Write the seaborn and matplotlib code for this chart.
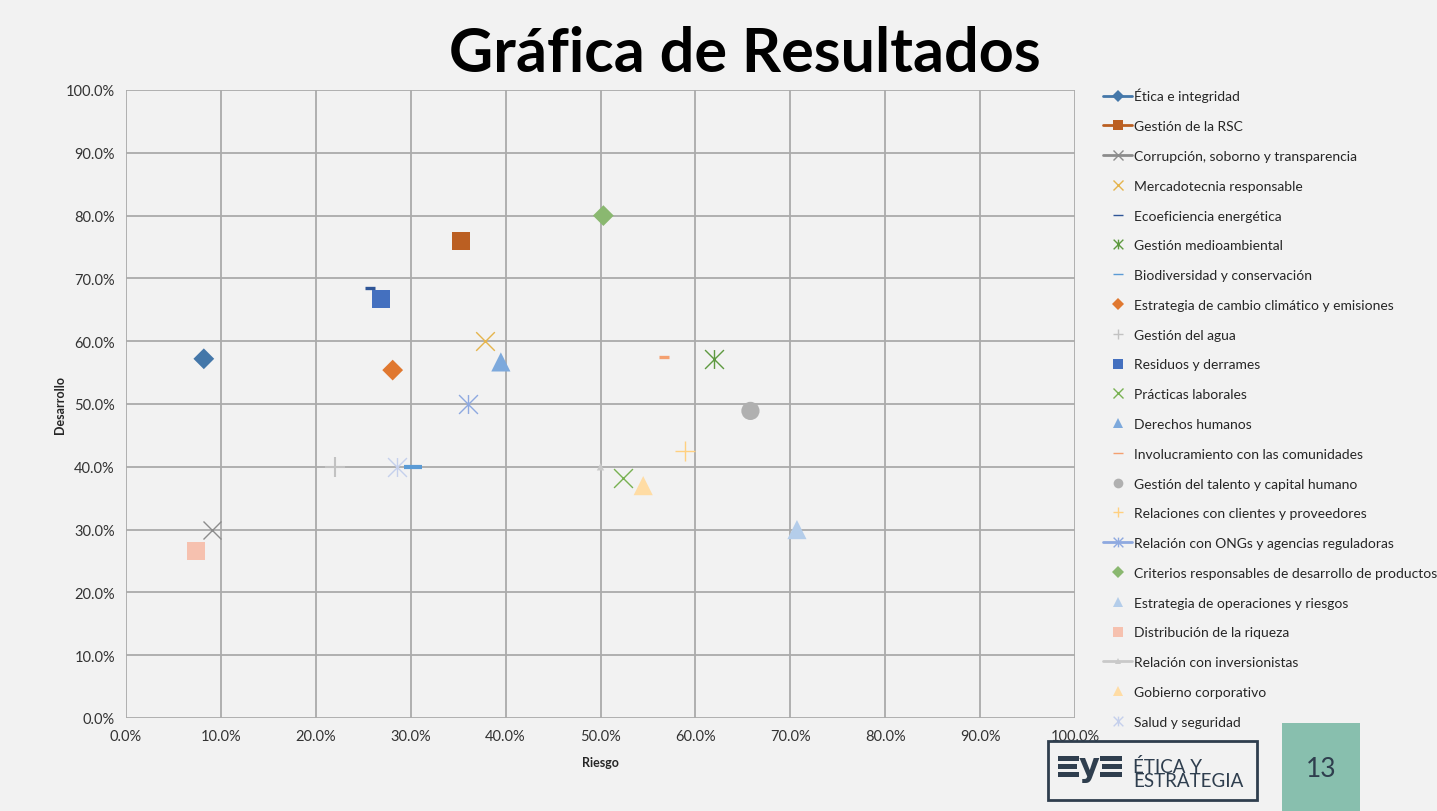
import matplotlib
matplotlib.use("Agg")
import matplotlib.pyplot as plt
import seaborn as sns
from matplotlib.lines import Line2D
from matplotlib.patches import Rectangle
from matplotlib.path import Path
from matplotlib.ticker import FuncFormatter

# Data (percent values)
temas = [
    "Ética e integridad", "Gestión de la RSC", "Corrupción, soborno y transparencia",
    "Mercadotecnia responsable", "Ecoeficiencia energética", "Gestión medioambiental",
    "Biodiversidad y conservación", "Estrategia de cambio climático y emisiones",
    "Gestión del agua", "Residuos y derrames", "Prácticas laborales", "Derechos humanos",
    "Involucramiento con las comunidades", "Gestión del talento y capital humano",
    "Relaciones con clientes y proveedores", "Relación con ONGs y agencias reguladoras",
    "Criterios responsables de desarrollo de productos", "Estrategia de operaciones y riesgos",
    "Distribución de la riqueza", "Relación con inversionistas", "Gobierno corporativo",
    "Salud y seguridad",
]
riesgo = [8.2, 35.3, 9.1, 37.8, 25.7, 62.0, 30.2, 28.1, 22.0, 26.9, 52.4, 39.5,
          56.7, 65.8, 58.9, 36.0, 50.3, 70.7, 7.4, 50.0, 54.5, 28.6]
desarrollo = [57.2, 76.0, 30.0, 60.0, 68.5, 57.2, 40.0, 55.4, 40.0, 66.7, 38.2, 56.7,
              57.5, 48.9, 42.5, 50.0, 80.0, 30.0, 26.6, 40.0, 37.0, 40.0]

# Excel-like star marker (x with a vertical bar)
star = Path([(0, -1), (0, 1), (-1, -1), (1, 1), (-1, 1), (1, -1)],
            [Path.MOVETO, Path.LINETO, Path.MOVETO, Path.LINETO, Path.MOVETO, Path.LINETO])

colores = ["#4477A9", "#BB5F22", "#8C8C8C", "#E5B44C", "#2F5597", "#5E9A40",
           "#5B9BD5", "#E07830", "#C2C2C2", "#4470BF", "#78B152", "#7DA9DC",
           "#F4A070", "#B0B0B0", "#FFD080", "#8EA9E0", "#8AB870", "#B4CDEA",
           "#F6C1AF", "#C9C9C9", "#FFDCA4", "#C5D0EC"]
marcadores = ["D", "s", "x", "x", "_", star, "_", "D", "+", "s", "x", "^",
              "_", "o", "+", star, "D", "^", "s", "^", "^", star]
tamanos = [112, 172, 168, 180, 42, 185, 169, 112, 207, 172, 185, 190,
           42, 172, 190, 185, 112, 190, 172, 28, 190, 185]
grosor = [0, 0, 1.0, 1.0, 2.4, 1.0, 3.0, 0, 1.5, 0, 1.0, 0,
          2.4, 0, 1.0, 1.0, 0, 0, 0, 0, 0, 1.0]
con_linea = [True, True, True, False, False, False, False, False, False, False, False,
             False, False, False, False, True, False, False, False, True, False, False]

sns.set_style("white")
plt.rcParams['font.family'] = ['Lato', 'DejaVu Sans']

bg = "#F2F2F2"
fig = plt.figure(figsize=(14.37, 8.12), dpi=100, facecolor=bg)
ax = fig.add_axes([126 / 1437, 93 / 812, 949 / 1437, 628 / 812], facecolor=bg)

for i in range(len(temas)):
    m = marcadores[i]
    lineal = m in ("x", "+", "_") or m is star
    sns.scatterplot(x=[riesgo[i]], y=[desarrollo[i]], marker=m, s=tamanos[i],
                    color=colores[i], edgecolor=colores[i] if lineal else "none",
                    linewidth=grosor[i], ax=ax, zorder=3, legend=False)

ax.set_xlim(0, 100)
ax.set_ylim(0, 100)
ax.set_xticks(range(0, 101, 10))
ax.set_yticks(range(0, 101, 10))
fmt = FuncFormatter(lambda v, p: f"{v:.1f}%")
ax.xaxis.set_major_formatter(fmt)
ax.yaxis.set_major_formatter(fmt)
ax.grid(True, color="#ABABAB", linewidth=1.3)
ax.set_axisbelow(True)
for s in ax.spines.values():
    s.set_visible(False)
ax.tick_params(axis="both", length=4, width=1.3, color="#ABABAB", labelsize=10.5,
               labelcolor="#333333", pad=4)
ax.set_xlabel("Riesgo", fontsize=9, fontweight="bold", labelpad=9)
ax.set_ylabel("Desarrollo", fontsize=9, fontweight="bold", labelpad=0)

# legend
handles = []
for i in range(len(temas)):
    m = marcadores[i]
    lineal = m in ("x", "+", "_") or m is star
    ms = {"D": 6, "s": 7.5, "o": 7, "^": 7}.get(m if isinstance(m, str) else "", 7)
    if i == 19:
        ms = 5
    handles.append(Line2D([], [], color=colores[i],
                          linestyle="-" if con_linea[i] else "none", linewidth=2,
                          marker=m, markersize=ms, markerfacecolor=colores[i],
                          markeredgecolor=colores[i],
                          markeredgewidth=1.0 if lineal else 0))
leg = ax.legend(handles, temas, loc="upper left", bbox_to_anchor=(1096 / 1437, 1 - 82 / 812),
                bbox_transform=fig.transFigure, frameon=False, fontsize=10,
                handlelength=2.1, handletextpad=0.15, labelspacing=1.28, borderpad=0)
for t in leg.get_texts():
    t.set_color("#262626")

fig.text(745 / 1437, 1 - 72 / 812, "Gráfica de Resultados", ha="center", va="baseline",
         fontsize=44, fontweight="bold", color="black")

# logo box
def px(x, y):
    return x / 1437, 1 - y / 812

oscuro = "#2F3E4E"
fig.add_artist(Rectangle(px(1048, 801), 209 / 1437, 59 / 812, transform=fig.transFigure,
                         facecolor=bg, edgecolor=oscuro, linewidth=2))
for (x0, x1, y0) in [(1058, 1079, 757), (1058, 1077, 765), (1058, 1079, 773),
                     (1100, 1122, 757), (1102, 1122, 765), (1100, 1122, 773)]:
    fig.add_artist(Rectangle(px(x0, y0 + 5), (x1 - x0) / 1437, 5 / 812,
                             transform=fig.transFigure, facecolor=oscuro, edgecolor="none"))
fig.text(*px(1089, 776), "y", ha="center", va="baseline", fontsize=23, fontweight="heavy",
         color=oscuro, family="DejaVu Sans")
fig.text(*px(1133, 787), "ÉTICA Y\nESTRATEGIA", ha="left", va="baseline", fontsize=13.5,
         color=oscuro, linespacing=0.78)

fig.add_artist(Rectangle(px(1282, 812), 78 / 1437, 88 / 812, transform=fig.transFigure,
                         facecolor="#88BFAE", edgecolor="none"))
fig.text(*px(1321, 770), "13", ha="center", va="center", fontsize=19, color=oscuro)

fig.savefig("out.png", dpi=100, facecolor=bg)
